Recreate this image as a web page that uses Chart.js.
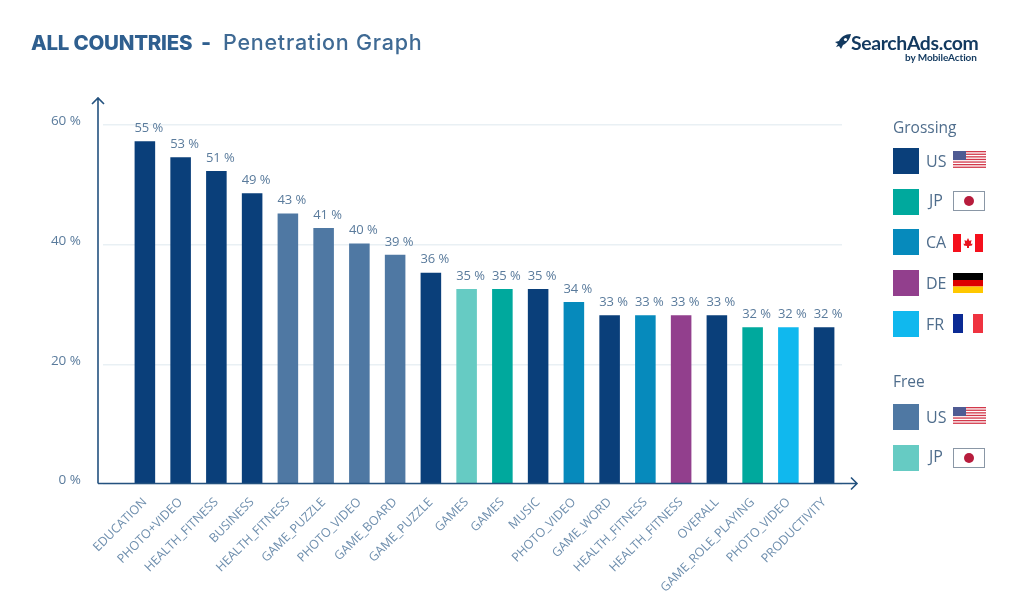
<!DOCTYPE html>
<html><head><meta charset="utf-8">
<script src="https://cdn.jsdelivr.net/npm/chart.js@4"></script>
<style>
html,body{margin:0;padding:0;background:#fff;overflow:hidden}
#wrap{position:relative;width:1024px;height:615px;font-family:"Open Sans",sans-serif}
canvas{position:absolute;left:0;top:0}
.t{position:absolute;white-space:nowrap}
#title{left:31px;top:27px;font:500 21.5px/30px Inter,sans-serif;color:#3f6a94}
#title b{font-weight:800;font-size:20.5px;color:#2f5f8f;letter-spacing:-.25px}
#title span{position:absolute;left:192px;top:0;letter-spacing:.75px}
#title i{position:absolute;left:170px;top:0;font-style:normal;font-weight:800;color:#2f5f8f}
#logo{left:851px;top:30px;font:700 19.4px/26px Lato,sans-serif;color:#12395f;letter-spacing:-.35px}
#logo2{left:905px;top:51px;font:700 10px/13px Lato,sans-serif;color:#12395f;letter-spacing:-.1px}
#rocket{position:absolute;left:834px;top:34px}
.head{position:absolute;left:893px;font-size:15.5px;line-height:20px;color:#4f6d8c}
.row{position:absolute;left:893px;width:100px;height:26px}
.sw{position:absolute;left:0;top:0;width:26px;height:26px}
.lab{position:absolute;left:33px;top:0;font-size:16px;line-height:26px;color:#4f6d8c}
.row svg{position:absolute;left:60px;top:3px}
</style></head><body>
<div id="wrap">
<canvas id="c" width="1024" height="615"></canvas>
<div class="t" id="title"><b>ALL COUNTRIES</b><i>-</i><span>Penetration Graph</span></div>
<svg id="rocket" width="18" height="17" viewBox="0 0 18 17"><path d="M17 0C11 0 7 3 5 7L1 8l3 2-2 3 3-1 2 3 2-4c4-2 7-6 8-11z" fill="#12395f"/><circle cx="11.5" cy="5.5" r="1.6" fill="#fff"/></svg>
<div class="t" id="logo">SearchAds.com</div>
<div class="t" id="logo2">by MobileAction</div>
<div id="legend"></div>
</div>
<script>
const categories = ["EDUCATION","PHOTO+VIDEO","HEALTH_FITNESS","BUSINESS","HEALTH_FITNESS","GAME_PUZZLE","PHOTO_VIDEO","GAME_BOARD","GAME_PUZZLE","GAMES","GAMES","MUSIC","PHOTO_VIDEO","GAME_WORD","HEALTH_FITNESS","HEALTH_FITNESS","OVERALL","GAME_ROLE_PLAYING","PHOTO_VIDEO","PRODUCTIVITY"];
const barHeights = [57.3,54.6,52.3,48.6,45.2,42.8,40.2,38.3,35.3,32.6,32.6,32.6,30.4,28.2,28.2,28.2,28.2,26.2,26.2,26.2];
const printedValues = [55,53,51,49,43,41,40,39,36,35,35,35,34,33,33,33,33,32,32,32];
const barSeries = ["gUS","gUS","gUS","gUS","fUS","fUS","fUS","fUS","gUS","fJP","gJP","gUS","gCA","gUS","gCA","gDE","gUS","gJP","gFR","gUS"];
const yTicks = [0,20,40,60];
const seriesColors = {gUS:"#0a3f7a",gJP:"#00a99d",gCA:"#068abc",gDE:"#923f8d",gFR:"#10b8ee",fUS:"#4f78a3",fJP:"#66cbc3"};
const grossingRows = [["gUS","US"],["gJP","JP"],["gCA","CA"],["gDE","DE"],["gFR","FR"]];
const freeRows = [["fUS","US"],["fJP","JP"]];

const flags = {
US:()=>{let s='<svg width="33" height="18" viewBox="0 0 33 18"><rect width="33" height="18" fill="#fff"/>';
 for(let i=0;i<7;i++)s+=`<rect y="${i*2.6}" width="33" height="1.3" fill="#d2384a"/>`;
 return s+'<rect width="13" height="9" fill="#4f5b93"/></svg>';},
JP:()=>'<svg width="32" height="20" viewBox="0 0 32 20" style="top:2.5px"><rect x=".5" y=".5" width="31" height="19" fill="#fff" stroke="#8a97a6"/><circle cx="16" cy="10" r="5" fill="#b71c3c"/></svg>',
CA:()=>'<svg width="30" height="18" viewBox="0 0 30 18" style="top:4.5px"><rect width="30" height="18" fill="#fff"/><rect width="8" height="18" fill="#f5101c"/><rect x="22" width="8" height="18" fill="#f5101c"/><path d="M15 4l1.5 3 2-1-.7 4 1.7-.5-.5 2-3 .5v2h-2v-2l-3-.5-.5-2 1.7.5-.7-4 2 1z" fill="#e8141f"/></svg>',
DE:()=>'<svg width="30" height="20" viewBox="0 0 30 20" style="top:3px"><rect width="30" height="7" fill="#000"/><rect y="7" width="30" height="6.5" fill="#dd0000"/><rect y="13.5" width="30" height="6.5" fill="#ffc800"/></svg>',
FR:()=>'<svg width="30" height="19" viewBox="0 0 30 19" style="top:3px"><rect width="10" height="19" fill="#0b2a94"/><rect x="20" width="10" height="19" fill="#ef3340"/></svg>'
};

function legendBlock(title, titleTop, rows, firstTop, step){
  let h = `<div class="head" style="top:${titleTop}px">${title}</div>`;
  rows.forEach((r,i)=>{
    h += `<div class="row" style="top:${firstTop+i*step}px"><div class="sw" style="background:${seriesColors[r[0]]}"></div><div class="lab"${r[1]==="JP"?' style="left:36px;top:-2px"':''}>${r[1]}</div>${flags[r[1]]()}</div>`;
  });
  return h;
}
document.getElementById("legend").innerHTML =
  legendBlock("Grossing",117,grossingRows,148,40.7)+legendBlock("Free",371,freeRows,404,41);

const labelPlugin = {
  id:"barLabels",
  afterDatasetsDraw(chart){
    const ctx = chart.ctx, meta = chart.getDatasetMeta(0);
    ctx.save();
    ctx.font = '13px "Open Sans"';
    ctx.fillStyle = "#5a7b9c";
    ctx.textAlign = "center";
    ctx.textBaseline = "middle";
    meta.data.forEach((bar,i)=>ctx.fillText(printedValues[i]+" %", bar.x+4, bar.y-13));
    ctx.restore();
  }
};
const axisPlugin = {
  id:"arrowAxes",
  afterDraw(chart){
    const ctx = chart.ctx, a = chart.chartArea, y0 = chart.scales.y.getPixelForValue(0)-0.5;
    const x0 = a.left-29, top = a.top-27, right = a.right+15;
    ctx.save();
    ctx.strokeStyle = "#24527f";
    ctx.lineWidth = 1.6;
    ctx.beginPath();
    ctx.moveTo(x0,y0); ctx.lineTo(x0,top);
    ctx.moveTo(x0-6,top+6); ctx.lineTo(x0,top); ctx.lineTo(x0+6,top+6);
    ctx.moveTo(x0,y0); ctx.lineTo(right,y0);
    ctx.moveTo(right-6,y0-6); ctx.lineTo(right,y0); ctx.lineTo(right-6,y0+6);
    ctx.stroke();
    ctx.restore();
  }
};

new Chart(document.getElementById("c"),{
  type:"bar",
  data:{labels:categories,datasets:[{data:barHeights,backgroundColor:barSeries.map(k=>seriesColors[k]),categoryPercentage:1,barPercentage:0.575}]},
  plugins:[labelPlugin,axisPlugin],
  options:{
    responsive:false,animation:false,
    layout:{padding:{left:0,right:182,top:125,bottom:0}},
    plugins:{legend:{display:false},title:{display:false},tooltip:{enabled:false}},
    scales:{
      x:{
        afterFit(s){s.height=131;},
        grid:{display:false},border:{display:false},
        ticks:{autoSkip:false,minRotation:45,maxRotation:45,padding:3,color:"#6f8fae",font:{family:"Open Sans",size:12.4}}
      },
      y:{
        min:0,max:60,
        afterFit(s){s.width=127;},
        afterBuildTicks(s){s.ticks=yTicks.map(v=>({value:v}));},
        grid:{color:"#e9f0f4",lineWidth:1.5,tickLength:24},border:{display:false},
        ticks:{padding:22,color:"#5a7b9c",font:{family:"Open Sans",size:13.5,lineHeight:"7px"},callback:v=>[v+" %",""]}
      }
    }
  }
});
</script>
</body></html>
